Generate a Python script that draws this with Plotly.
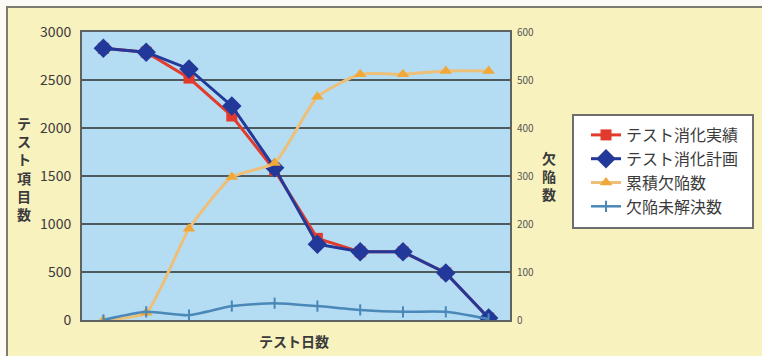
import plotly.graph_objects as go

days = [1, 2, 3, 4, 5, 6, 7, 8, 9, 10]
actual = [2830, 2790, 2520, 2125, 1560, 850, 710, 710, 490, 20]
plan = [2830, 2790, 2615, 2230, 1585, 790, 710, 710, 490, 20]
cumulative_defects = [0, 15, 190, 298, 327, 465, 512, 512, 519, 519]
open_defects = [0, 17, 10, 29, 35, 29, 21, 17, 17, 2]

left_ticks = [0, 500, 1000, 1500, 2000, 2500, 3000]
right_ticks = [0, 100, 200, 300, 400, 500, 600]

names = ["テスト消化実績", "テスト消化計画", "累積欠陥数", "欠陥未解決数"]
left_title = "テスト項目数"
right_title = "欠陥数"
x_title = "テスト日数"

FONT = "Noto Sans CJK JP"
W, H = 762, 356
L, R, T, B = 82, 510, 32, 320


def px(x):
    return (x - L) / (R - L)


def py(y):
    return (B - y) / (B - T)


fig = go.Figure()
fig.add_trace(go.Scatter(
    x=days, y=actual, name=names[0], mode="lines+markers",
    line=dict(color="#e23a2c", width=3),
    marker=dict(symbol="square", size=11, color="#e23a2c"),
))
fig.add_trace(go.Scatter(
    x=days, y=plan, name=names[1], mode="lines+markers",
    line=dict(color="#23399a", width=3),
    marker=dict(symbol="diamond", size=15, color="#23399a"),
))
fig.add_trace(go.Scatter(
    x=days, y=cumulative_defects, name=names[2], mode="lines+markers", yaxis="y2",
    line=dict(color="#eebf78", width=3, shape="spline", smoothing=0.5),
    marker=dict(symbol="triangle-up", size=11, color="#f0a838"),
))
fig.add_trace(go.Scatter(
    x=days, y=open_defects, name=names[3], mode="lines+markers", yaxis="y2",
    line=dict(color="#4a88b8", width=2.5, shape="spline", smoothing=0.6),
    marker=dict(symbol="line-ns-open", size=8, color="#4a88b8", line=dict(width=2, color="#4a88b8")),
))

shapes = [
    # outer frame
    dict(type="rect", xref="paper", yref="paper",
         x0=px(7), x1=px(790), y0=py(380), y1=py(7),
         line=dict(color="#7d7a70", width=2), fillcolor="rgba(0,0,0,0)", layer="above"),
    # white strips outside frame
    dict(type="rect", xref="paper", yref="paper",
         x0=px(-5), x1=px(770), y0=py(6), y1=py(-5),
         line=dict(width=0), fillcolor="#fbfaf4", layer="below"),
    dict(type="rect", xref="paper", yref="paper",
         x0=px(-5), x1=px(6), y0=py(380), y1=py(-5),
         line=dict(width=0), fillcolor="#fbfaf4", layer="below"),
    # legend box
    dict(type="rect", xref="paper", yref="paper",
         x0=px(573), x1=px(753), y0=py(228), y1=py(115),
         line=dict(color="#6e6e6e", width=2), fillcolor="#ffffff", layer="above"),
]

annotations = [
    dict(text="<br>".join(left_title), xref="paper", yref="paper",
         x=px(24), y=py(168), xanchor="center", yanchor="middle", showarrow=False,
         font=dict(family=FONT, size=14, color="#3a3a3a", weight="bold")),
    dict(text="<br>".join(right_title), xref="paper", yref="paper",
         x=px(549), y=py(176), xanchor="center", yanchor="middle", showarrow=False,
         font=dict(family=FONT, size=14, color="#3a3a3a", weight="bold")),
    dict(text=x_title, xref="paper", yref="paper",
         x=px(294), y=py(341), xanchor="center", yanchor="middle", showarrow=False,
         font=dict(family=FONT, size=14, color="#3a3a3a", weight="bold")),
]

fig.update_layout(
    width=W, height=H,
    margin=dict(l=L, r=W - R, t=T, b=H - B),
    paper_bgcolor="#f8f2bf",
    plot_bgcolor="#b4dcf2",
    font=dict(family=FONT, color="#3a3a3a"),
    showlegend=True,
    legend=dict(
        x=px(586), y=py(118), xanchor="left", yanchor="top",
        bgcolor="rgba(0,0,0,0)", borderwidth=0,
        font=dict(family=FONT, size=16, color="#3a3a3a"),
        tracegroupgap=0,
    ),
    xaxis=dict(
        range=[0.5, 10.5], showticklabels=False, ticks="",
        showgrid=False, zeroline=False,
        showline=True, linecolor="#5e6260", linewidth=2, mirror=True,
    ),
    yaxis=dict(
        range=[0, 3000], tickvals=left_ticks,
        showgrid=True, gridcolor="#4f5a5e", gridwidth=2,
        zeroline=False, showline=True, linecolor="#5e6260", linewidth=2, mirror=True,
        ticks="", ticklabelstandoff=6,
        tickfont=dict(family=FONT, size=14, color="#3a3a3a"),
    ),
    yaxis2=dict(
        range=[0, 600], tickvals=right_ticks, overlaying="y", side="right",
        showgrid=False, zeroline=False, ticks="", ticklabelstandoff=6,
        tickfont=dict(family=FONT, size=10, color="#555555"),
    ),
    shapes=shapes,
    annotations=annotations,
)

fig.write_html("out.html")
